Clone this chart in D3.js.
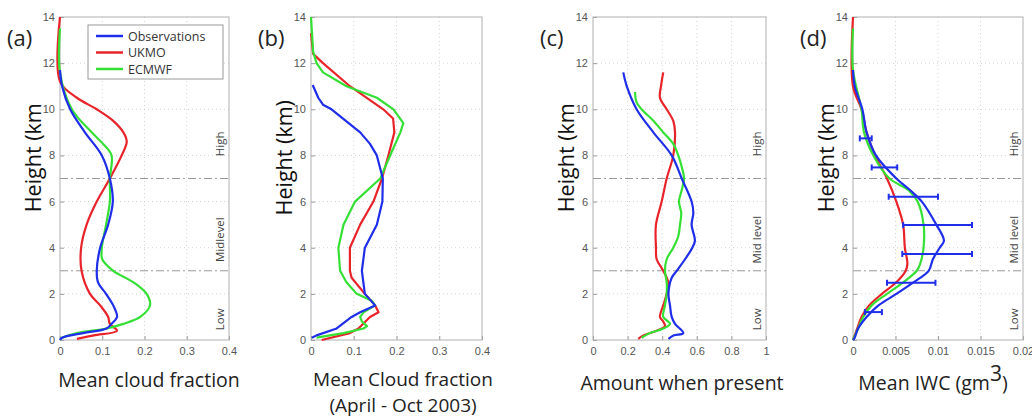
<!DOCTYPE html>
<html>
<head>
<meta charset="utf-8">
<script src="https://cdn.jsdelivr.net/npm/d3@7"></script>
<style>
  body { margin: 0; background: #fff; }
  svg { display: block; }
</style>
</head>
<body>
<svg id="chart"></svg>
<script>
// ---- data: [value, height km] pairs ----
// panel (a) mean cloud fraction
const aObs = [[0,11.7],[0.005,11],[0.024,10],[0.059,9],[0.099,8],[0.118,7],[0.125,6],[0.114,5],[0.095,4],[0.087,3],[0.09,2.5],[0.109,2],[0.126,1.5],[0.135,1],[0.122,0.7],[0.11,0.5],[0.055,0.3],[0.005,0.1],[0,0]];
const aUkmo = [[0,14],[0,11.2],[0.04,10.5],[0.087,10],[0.126,9.5],[0.15,9],[0.158,8.6],[0.146,8],[0.118,7],[0.087,6],[0.063,5],[0.05,4],[0.051,3],[0.071,2],[0.095,1.5],[0.114,1],[0.118,0.7],[0.135,0.4],[0.08,0.2],[0.04,0.05]];
const aEcmwf = [[0,13.5],[0,11.6],[0.028,10],[0.075,9],[0.102,8.5],[0.122,8],[0.118,7],[0.118,6],[0.109,5],[0.099,4],[0.1,3.5],[0.126,3],[0.174,2.5],[0.205,2],[0.213,1.5],[0.19,1],[0.15,0.7],[0.11,0.5],[0.04,0.3],[0.005,0.1],[0,0.05]];

// panel (b) mean cloud fraction, April - Oct 2003
const bObs = [[0.004,11.05],[0.017,10.5],[0.028,10.2],[0.048,10],[0.115,9],[0.138,8.5],[0.154,8],[0.168,7],[0.167,6],[0.154,5],[0.126,4],[0.119,3],[0.126,2],[0.15,1.5],[0.115,1.2],[0.095,1],[0.06,0.5],[0.013,0.2],[0.002,0.1]];
const bUkmo = [[0,13.3],[0.005,12.4],[0.028,12],[0.091,11],[0.169,10],[0.192,9.6],[0.195,9],[0.181,8],[0.166,7],[0.146,6],[0.115,5],[0.091,4],[0.091,3],[0.095,2.7],[0.126,2],[0.15,1.5],[0.158,1.2],[0.138,1],[0.111,0.5],[0.091,0.3],[0.025,0]];
const bEcmwf = [[0,14],[0.005,12.5],[0.013,12],[0.028,11.6],[0.083,11],[0.154,10.5],[0.193,10],[0.216,9.4],[0.209,9],[0.185,8],[0.162,7],[0.103,6],[0.076,5],[0.064,4],[0.068,3],[0.083,2.5],[0.107,2],[0.142,1.7],[0.15,1.5],[0.123,1.2],[0.115,1],[0.119,0.8],[0.131,0.6],[0.123,0.5],[0.076,0.3],[0.013,0.1]];

// panel (c) amount when present
const cObs = [[0.175,11.6],[0.195,11],[0.252,10],[0.349,9],[0.455,8],[0.513,7],[0.57,6],[0.58,5.5],[0.57,5],[0.589,4.3],[0.574,4],[0.532,3.5],[0.484,3],[0.455,2.7],[0.436,2],[0.445,1.5],[0.455,1],[0.474,0.7],[0.522,0.3],[0.465,0.2],[0.436,0.05]];
const cUkmo = [[0.406,11.6],[0.393,11],[0.387,10.5],[0.426,10],[0.464,9.5],[0.474,9],[0.464,8],[0.426,7],[0.397,6],[0.364,5],[0.364,4],[0.368,3.5],[0.406,3],[0.435,2.5],[0.426,2],[0.406,1.5],[0.387,1],[0.406,0.8],[0.416,0.6],[0.368,0.4],[0.291,0.2],[0.262,0.05]];
const cEcmwf = [[0.243,10.75],[0.252,10.3],[0.281,10],[0.349,9.5],[0.406,9],[0.464,8.5],[0.493,8],[0.513,7.5],[0.526,7],[0.513,6.5],[0.497,6],[0.51,5.5],[0.503,5],[0.493,4.5],[0.464,4],[0.426,3.5],[0.416,3],[0.426,2.5],[0.426,2],[0.416,1.5],[0.406,1],[0.445,0.7],[0.406,0.5],[0.329,0.3],[0.281,0.1]];

// panel (d) mean IWC
const dObs = [[0,11.7],[0.0002,11],[0.0011,10],[0.0016,9],[0.0027,8],[0.0051,7],[0.0067,6.5],[0.0081,6],[0.0098,5],[0.0107,4.3],[0.0102,4],[0.0094,3.5],[0.0089,3],[0.0071,2.5],[0.0051,2],[0.003,1.5],[0.0016,1],[0.0006,0.5],[0.0002,0.1],[0,0]];
const dUkmo = [[0,14],[0,11],[0.001,10],[0.0016,9],[0.0026,8],[0.004,7],[0.0051,6],[0.0059,5],[0.0061,4],[0.0064,3.3],[0.0062,3],[0.0051,2.5],[0.0034,2],[0.0019,1.5],[0.001,1],[0.0005,0.5],[0,0]];
const dEcmwf = [[0,13.5],[0,11.7],[0.001,10],[0.0013,9],[0.0024,8],[0.0043,7],[0.0065,6.5],[0.0076,6],[0.0083,5],[0.0083,4],[0.0079,3.3],[0.0075,3],[0.0059,2.5],[0.004,2],[0.0022,1.5],[0.0012,1],[0.0006,0.5],[0,0]];
// observation error bars: [low, high, height]
const dErr = [[0.0008,0.0022,8.74],[0.0022,0.0052,7.48],[0.0042,0.01,6.21],[0.0059,0.014,4.98],[0.0058,0.014,3.73],[0.004,0.0097,2.48],[0.0014,0.0034,1.21]];

const heightTicks = [0, 2, 4, 6, 8, 10, 12, 14];
const fracTicks = [0, 0.1, 0.2, 0.3, 0.4];
const amountTicks = [0, 0.2, 0.4, 0.6, 0.8, 1];
const iwcTicks = [0, 0.005, 0.01, 0.015, 0.02];
const seriesNames = ["Observations", "UKMO", "ECMWF"];
const seriesColors = ["#1f2ee8", "#e8242a", "#35e035"];

const W = 1032, H = 417;
const svg = d3.select("#chart").attr("width", W).attr("height", H);
const font = "Open Sans, sans-serif";

const panels = [
  { tag: "(a)", left: 60, right: 229, dom: [0, 0.4], ticks: fracTicks, series: [aObs, aUkmo, aEcmwf],
    ylab: "Height (km", regions: ["High", "Midlevel", "Low"], curve: d3.curveCatmullRom },
  { tag: "(b)", left: 311, right: 482, dom: [0, 0.4], ticks: fracTicks, series: [bObs, bUkmo, bEcmwf],
    ylab: "Height (km)", regions: null, curve: d3.curveLinear },
  { tag: "(c)", left: 593, right: 766, dom: [0, 1], ticks: amountTicks, series: [cObs, cUkmo, cEcmwf],
    ylab: "Height (km", regions: ["High", "Mid  level", "Low"], curve: d3.curveCatmullRom },
  { tag: "(d)", left: 853, right: 1023, dom: [0, 0.02], ticks: iwcTicks, series: [dObs, dUkmo, dEcmwf],
    ylab: "Height (km", regions: ["High", "Mid  level", "Low"], curve: d3.curveCatmullRom }
];

const plotTop = 17, plotBottom = 340;
const y = d3.scaleLinear().domain([0, 14]).range([plotBottom, plotTop]);

panels.forEach((p, pi) => {
  const x = d3.scaleLinear().domain(p.dom).range([p.left, p.right]);
  const g = svg.append("g");

  // dotted grid
  g.selectAll(".gx").data(p.ticks.slice(1, -1)).enter().append("line")
    .attr("x1", d => x(d)).attr("x2", d => x(d)).attr("y1", plotTop).attr("y2", plotBottom)
    .attr("stroke", "#c8c8c8").attr("stroke-width", 0.8).attr("stroke-dasharray", "1,3");
  g.selectAll(".gy").data(heightTicks.slice(1, -1)).enter().append("line")
    .attr("x1", p.left).attr("x2", p.right).attr("y1", d => y(d)).attr("y2", d => y(d))
    .attr("stroke", "#c8c8c8").attr("stroke-width", 0.8).attr("stroke-dasharray", "1,3");

  // axes
  const xAxis = g.append("g").attr("transform", `translate(0,${plotBottom})`)
    .call(d3.axisBottom(x).tickValues(p.ticks).tickFormat(d => d).tickSize(-4).tickPadding(7));
  const yAxis = g.append("g").attr("transform", `translate(${p.left},0)`)
    .call(d3.axisLeft(y).tickValues(heightTicks).tickSize(-4).tickPadding(5));
  [xAxis, yAxis].forEach(ax => {
    ax.select(".domain").remove();
    ax.selectAll("line").attr("stroke", "#999");
    ax.selectAll("text").attr("fill", "#555").style("font-family", "Liberation Sans, Arial, sans-serif").style("font-size", "11px");
  });

  // box
  g.append("rect").attr("x", p.left).attr("y", plotTop).attr("width", p.right - p.left).attr("height", plotBottom - plotTop)
    .attr("fill", "none").attr("stroke", "#b0b0b0").attr("stroke-width", 1);

  // level separators
  if (p.regions) {
    g.selectAll(".sep").data([3, 7]).enter().append("line")
      .attr("x1", p.left).attr("x2", p.right).attr("y1", d => y(d)).attr("y2", d => y(d))
      .attr("stroke", "#9a9a9a").attr("stroke-width", 1).attr("stroke-dasharray", "8,3,2,3");
    const rx = p.right - 5;
    [[p.regions[0], 8.5], [p.regions[1], 4.35], [p.regions[2], 0.9]].forEach(([t, h]) => {
      g.append("text").attr("transform", `translate(${rx},${y(h)}) rotate(-90)`)
        .attr("text-anchor", "middle").attr("fill", "#444")
        .style("font-family", font).style("font-size", "11.5px").text(t);
    });
  }

  // curves
  const line = d3.line().x(d => x(d[0])).y(d => y(d[1])).curve(p.curve);
  [1, 2, 0].forEach(si => {
    g.append("path").datum(p.series[si]).attr("d", line)
      .attr("fill", "none").attr("stroke", seriesColors[si]).attr("stroke-width", 2.2)
      .attr("stroke-linejoin", "round");
  });

  // error bars for IWC
  if (pi === 3) {
    const eb = g.selectAll(".eb").data(dErr).enter().append("g").attr("stroke", seriesColors[0]).attr("stroke-width", 2);
    eb.append("line").attr("x1", d => x(d[0])).attr("x2", d => x(d[1])).attr("y1", d => y(d[2])).attr("y2", d => y(d[2]));
    eb.append("line").attr("x1", d => x(d[0])).attr("x2", d => x(d[0])).attr("y1", d => y(d[2]) - 3).attr("y2", d => y(d[2]) + 3);
    eb.append("line").attr("x1", d => x(d[1])).attr("x2", d => x(d[1])).attr("y1", d => y(d[2]) - 3).attr("y2", d => y(d[2]) + 3);
  }

  // panel tag
  g.append("text").attr("x", p.left - 53).attr("y", 46).attr("fill", "#222")
    .style("font-family", font).style("font-size", "22px").text(p.tag);

  // y label
  g.append("text").attr("transform", `translate(${p.left - 19},${y(7.9)}) rotate(-90)`)
    .attr("text-anchor", "middle").attr("fill", "#111")
    .style("font-family", font).style("font-size", "21.5px").text(p.ylab);
});

// x-axis titles
const titleStyle = sel => sel.attr("text-anchor", "middle").attr("fill", "#222")
  .style("font-family", font).style("font-size", "19.5px");
svg.append("text").attr("x", 149).attr("y", 387).call(titleStyle).text("Mean cloud fraction");
svg.append("text").attr("x", 403).attr("y", 386).call(titleStyle).style("font-size", "19px").text("Mean Cloud fraction");
svg.append("text").attr("x", 403).attr("y", 412).call(titleStyle).style("font-size", "19px").text("(April - Oct 2003)");
svg.append("text").attr("x", 682).attr("y", 390).call(titleStyle).text("Amount when present");
const iwc = svg.append("text").attr("x", 933).attr("y", 390).call(titleStyle);
iwc.append("tspan").text("Mean IWC (gm");
iwc.append("tspan").attr("dy", -9).style("font-size", "21px").text("3");
iwc.append("tspan").attr("dy", 9).text(")");

// legend in panel (a)
const leg = svg.append("g");
leg.append("rect").attr("x", 88).attr("y", 25).attr("width", 135).attr("height", 54)
  .attr("fill", "#fff").attr("stroke", "#999").attr("stroke-width", 1);
seriesNames.forEach((n, i) => {
  const ly = 36 + i * 16.5;
  leg.append("line").attr("x1", 96).attr("x2", 123).attr("y1", ly).attr("y2", ly)
    .attr("stroke", seriesColors[i]).attr("stroke-width", 2.5);
  leg.append("text").attr("x", 128).attr("y", ly + 4.5).attr("fill", "#333")
    .style("font-family", font).style("font-size", "12.5px").text(n);
});
</script>
</body>
</html>
